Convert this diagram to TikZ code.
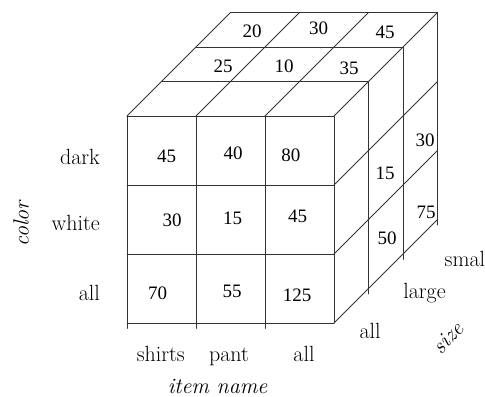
\documentclass[tikz,border=0pt]{standalone}
\usepackage{fontspec}
\newfontfamily\numfont{Liberation Serif}

\begin{document}
\begin{tikzpicture}[
      x=69pt, y=69pt,
      grid/.style = {line width=0.9pt, black!80, line cap=round},
      num/.style  = {font=\numfont\fontsize{19}{22}\selectfont, inner sep=0pt},
      lbl/.style  = {font=\fontsize{22}{26}\selectfont, inner sep=0pt},
      ttl/.style  = {font=\fontsize{22}{26}\selectfont\itshape, inner sep=0pt}
    ]
    \useasboundingbox (-1.841,-1.072) rectangle (5.188,4.681);
    % front face
    \foreach \i in {0,...,3} {
      \draw[grid] (\i,0) -- (\i,3);
      \draw[grid] (0,\i) -- (3,\i);
    }
    \foreach \i in {0,1,2} \draw[grid] (\i,0) -- (\i,-0.08);
    % top face
    \foreach \k in {1,2,3} \draw[grid] (0.5*\k,3+0.5*\k) -- (3+0.5*\k,3+0.5*\k);
    \foreach \i in {0,...,3} \draw[grid] (\i,3) -- (\i+1.5,4.5);
    % right face
    \foreach \j in {0,1,2} \draw[grid] (3,\j) -- (4.5,\j+1.5);
    \foreach \k in {1,2,3} \draw[grid] (3+0.5*\k,0.5*\k-0.08) -- (3+0.5*\k,3+0.5*\k);
    % values: front
    \foreach \x/\y/\v [count=\n] in {0.575/2.416/45, 1.536/2.459/40, 2.374/2.428/80,
                                     0.652/1.493/30, 1.529/1.510/15, 2.471/1.541/45,
                                     0.442/0.430/70, 1.522/0.454/55, 2.464/0.406/125}
      \node[num] (f\n) at (\x,\y) {\v};
    % values: top
    \foreach \x/\y/\v [count=\n] in {1.812/4.232/20, 2.775/4.268/30, 3.739/4.217/45,
                                     1.391/3.725/25, 2.275/3.725/10, 3.217/3.696/35}
      \node[num] (t\n) at (\x,\y) {\v};
    % values: right
    \foreach \x/\y/\v [count=\n] in {4.319/2.652/30, 3.739/2.174/15,
                                     4.333/1.609/75, 3.768/1.232/50}
      \node[num] (r\n) at (\x,\y) {\v};
    % color
    \node[lbl, anchor=base east] (dark)  at (-0.391,2.290) {dark};
    \node[lbl, anchor=base east] (white) at (-0.391,1.338) {white};
    \node[lbl, anchor=base east] (call)  at (-0.391,0.333) {all};
    \node[ttl, rotate=90] (color) at (-1.536,1.435) {color};
    % item name
    \node[lbl, anchor=base] (shirts) at (0.490,-0.561) {shirts};
    \node[lbl, anchor=base] (pant)   at (1.478,-0.561) {pant};
    \node[lbl, anchor=base] (iall)   at (2.565,-0.561) {all};
    \node[ttl, anchor=base] (item)   at (1.312,-1.025) {item name};
    % size
    \node[lbl, anchor=base] (sall)   at (3.522,-0.222) {all};
    \node[lbl, anchor=base] (large)  at (4.312,0.354) {large};
    \node[lbl, anchor=base west] (small) at (4.60,0.812) {small};
    \node[ttl, rotate=48] (size) at (4.652,-0.217) {size};
\end{tikzpicture}
\end{document}
